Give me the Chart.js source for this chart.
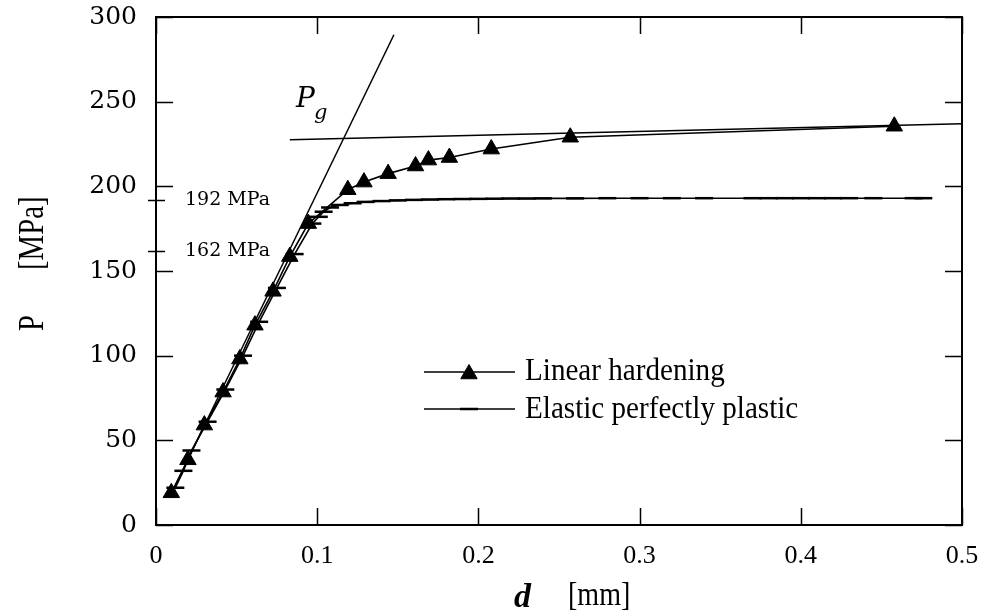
<!DOCTYPE html>
<html><head><meta charset="utf-8">
<script src="https://cdn.jsdelivr.net/npm/chart.js@4.4.0/dist/chart.umd.min.js"></script>
<style>html,body{margin:0;padding:0;background:#fff;overflow:hidden}#wrap{width:988px;height:615px}</style>
</head><body><div id="wrap"><canvas id="c" width="988" height="615"></canvas></div>
<script>
// ---- data ----
const xTicks = [0, 0.1, 0.2, 0.3, 0.4, 0.5];
const yTicks = [0, 50, 100, 150, 200, 250, 300];
const seriesLabels = ['Linear hardening', 'Elastic perfectly plastic'];

const lhD = [0.0095, 0.0198, 0.030, 0.0416, 0.052, 0.0614, 0.0726, 0.083, 0.0945, 0.119, 0.129, 0.144, 0.161, 0.169, 0.182, 0.208, 0.257, 0.458];
const lhP = [19, 38.5, 59, 78.5, 98, 118, 138, 158.5, 178, 198, 202.5, 207.5, 212, 215.5, 217, 222, 229, 235.5];

const eppD = [0.012, 0.017, 0.022, 0.032, 0.043, 0.054, 0.064, 0.075, 0.086, 0.097, 0.101, 0.104, 0.108, 0.114, 0.122, 0.13, 0.14, 0.15, 0.16, 0.17, 0.18, 0.19, 0.2, 0.21, 0.22, 0.23, 0.24, 0.26, 0.28, 0.3, 0.32, 0.34, 0.37, 0.38, 0.39, 0.4, 0.41, 0.42, 0.43, 0.445, 0.47, 0.476];
const eppP = [22, 32, 44, 61, 80, 100, 120, 140, 160, 178, 182, 185, 187.5, 189, 190, 190.8, 191.3, 191.7, 192, 192.2, 192.4, 192.5, 192.6, 192.7, 192.8, 192.8, 192.9, 192.9, 193, 193, 193, 193, 193, 193, 193, 193, 193, 193, 193, 193, 193, 193];

const elasticLineD = [0.01, 0.1476];
const elasticLineP = [19.5, 289.5];
const hardLineD = [0.083, 0.5];
const hardLineP = [227.5, 237];

const markLevels = [192, 162];
const markLabels = ['192 MPa', '162 MPa'];

// ---- helpers ----
function pts(xs, ys) { return xs.map((x, i) => ({ x: x, y: ys[i] })); }
function txt(ctx, s, x, y, font, o) {
  o = o || {};
  ctx.save();
  ctx.font = font; ctx.fillStyle = '#000';
  ctx.textAlign = o.align || 'left';
  ctx.textBaseline = o.base || 'alphabetic';
  ctx.translate(x, y);
  if (o.rot) ctx.rotate(o.rot);
  ctx.scale(o.sx || 1, 1);
  ctx.fillText(s, 0, 0);
  ctx.restore();
}

const decor = {
  id: 'decor',
  afterDatasetsDraw(chart) {
    const c = chart.ctx, a = chart.chartArea, xs = chart.scales.x, ys = chart.scales.y;
    c.save();
    c.strokeStyle = '#000';
    c.lineWidth = 2;
    c.strokeRect(a.left, a.top, a.right - a.left, a.bottom - a.top);
    c.lineWidth = 1.5;
    const L = 17;
    c.beginPath();
    xs.ticks.forEach(t => {
      const px = Math.round(xs.getPixelForValue(t.value)) + 0.5;
      c.moveTo(px, a.bottom); c.lineTo(px, a.bottom - L);
      c.moveTo(px, a.top); c.lineTo(px, a.top + L);
    });
    ys.ticks.forEach(t => {
      const py = Math.round(ys.getPixelForValue(t.value)) + 0.5;
      c.moveTo(a.left, py); c.lineTo(a.left + L, py);
      c.moveTo(a.right, py); c.lineTo(a.right - L, py);
    });
    markLevels.forEach(v => {
      const py = Math.round(ys.getPixelForValue(v)) + 0.5;
      c.moveTo(a.left - 8, py); c.lineTo(a.left + 9, py);
    });
    c.stroke();
    c.restore();
  },
  afterDraw(chart) {
    const c = chart.ctx, ys = chart.scales.y, ds = chart.data.datasets;
    // level annotations
    markLevels.forEach((v, i) => {
      txt(c, markLabels[i], 185, ys.getPixelForValue(v), '19px "DejaVu Serif"', { base: 'middle' });
    });
    // Pg label
    txt(c, 'P', 296, 107, 'italic 28px "DejaVu Serif"');
    txt(c, 'g', 314, 119, 'italic 21px "DejaVu Serif"');
    // legend
    const rows = [{ y: 372, ty: 380 }, { y: 409, ty: 418 }];
    rows.forEach((r, i) => {
      const d = ds[i];
      c.save();
      c.strokeStyle = '#000'; c.fillStyle = '#000'; c.lineWidth = d.borderWidth;
      c.beginPath(); c.moveTo(424, r.y); c.lineTo(515, r.y); c.stroke();
      c.lineWidth = d.pointBorderWidth;
      Chart.helpers.drawPoint(c, {
        pointStyle: d.pointStyle, radius: d.pointRadius, borderWidth: d.pointBorderWidth, rotation: 0
      }, 469, i === 0 ? r.y + 2 : r.y);
      c.restore();
      txt(c, seriesLabels[i], 525, r.ty, '32px "Liberation Serif"', { sx: 0.91 });
    });
    // y title
    txt(c, 'P', 43, 331, '36px "Liberation Serif"', { rot: -Math.PI / 2, sx: 0.8 });
    txt(c, '[MPa]', 43, 270, '36px "Liberation Serif"', { rot: -Math.PI / 2, sx: 0.8 });
    // x title
    txt(c, 'd', 514, 607, 'italic bold 34px "Liberation Serif"');
    txt(c, '[mm]', 568, 605, '33px "Liberation Serif"', { sx: 0.85 });
  }
};

function noPad(s) { s.paddingTop = 0; s.paddingBottom = 0; s.paddingLeft = 0; s.paddingRight = 0; }

new Chart(document.getElementById('c'), {
  type: 'scatter',
  data: {
    datasets: [
      {
        label: seriesLabels[0], data: pts(lhD, lhP), showLine: true,
        borderColor: '#000', borderWidth: 1.6, backgroundColor: '#000',
        pointStyle: 'triangle', pointRadius: 9.5, pointBorderWidth: 1,
        pointBackgroundColor: '#000', pointBorderColor: '#000'
      },
      {
        label: seriesLabels[1], data: pts(eppD, eppP), showLine: true,
        borderColor: '#000', borderWidth: 1.6, backgroundColor: '#000',
        pointStyle: 'line', pointRadius: 9, pointBorderWidth: 2.5,
        pointBorderColor: '#000'
      },
      {
        label: 'elastic', data: pts(elasticLineD, elasticLineP), showLine: true,
        borderColor: '#000', borderWidth: 1.5, pointRadius: 0
      },
      {
        label: 'hardening', data: pts(hardLineD, hardLineP), showLine: true,
        borderColor: '#000', borderWidth: 1.5, pointRadius: 0
      }
    ]
  },
  options: {
    responsive: false, animation: false, devicePixelRatio: 1,
    layout: { padding: { top: 17, right: 26, left: 0, bottom: 0 } },
    plugins: { legend: { display: false }, tooltip: { enabled: false } },
    scales: {
      x: {
        type: 'linear', min: 0, max: 0.5,
        afterBuildTicks: s => { s.ticks = xTicks.map(v => ({ value: v })); },
        afterFit: s => { s.height = 90; noPad(s); },
        grid: { display: false, drawTicks: false },
        border: { display: false },
        ticks: {
          color: '#000', padding: 16, maxRotation: 0, autoSkip: false,
          font: { family: '"Liberation Serif"', size: 26 },
          callback: v => (v === 0 ? '0' : Number(v).toFixed(1))
        }
      },
      y: {
        type: 'linear', min: 0, max: 300,
        afterBuildTicks: s => { s.ticks = yTicks.map(v => ({ value: v })); },
        afterFit: s => { s.width = 156; noPad(s); },
        grid: { display: false, drawTicks: false },
        border: { display: false },
        ticks: {
          color: '#000', padding: 19, autoSkip: false,
          font: { family: '"DejaVu Serif"', size: 25 },
          callback: v => String(v)
        }
      }
    }
  },
  plugins: [decor]
});
</script>
</body></html>
